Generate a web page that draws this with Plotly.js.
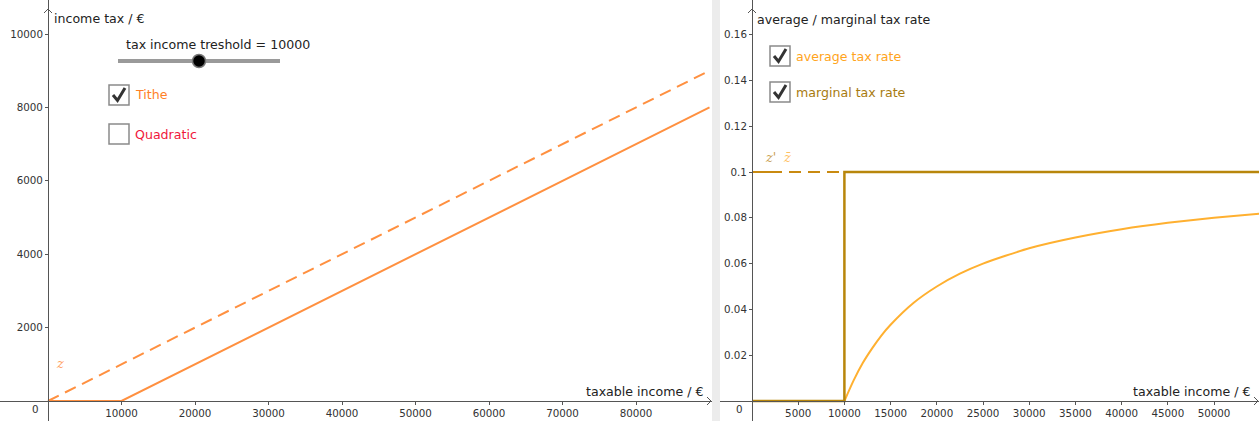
<!DOCTYPE html>
<html>
<head>
<meta charset="utf-8">
<script src="https://cdn.plot.ly/plotly-3.0.1.min.js"></script>
<style>html,body{margin:0;padding:0;background:#fff;}#chart{width:1259px;height:421px;}</style>
</head>
<body>
<div id="chart"></div>
<script>
// ---- data ----
const incomeTithe = [0, 10000, 90000];
const taxTithe = [0, 0, 8000];
const incomeZ = [0, 90000];
const taxZ = [0, 9000];

const incomeAvgFlat = [0, 10000];
const avgRateFlat = [0, 0];
const incomeAvg = [10000, 11000, 12000, 13000, 14000, 15000, 17500, 20000, 22500, 25000, 30000, 35000, 40000, 45000, 50000, 55000];
const avgRate = [0, 0.009, 0.0167, 0.023, 0.0286, 0.0333, 0.0429, 0.05, 0.0556, 0.06, 0.0667, 0.0714, 0.075, 0.0778, 0.08, 0.0818];
const incomeMarg = [0, 10000, 10000, 55000];
const margRate = [0, 0, 0.1, 0.1];
const incomeZbar = [0, 55000];
const zbarRate = [0.1, 0.1];

const leftXTicks = [10000, 20000, 30000, 40000, 50000, 60000, 70000, 80000];
const leftYTicks = [2000, 4000, 6000, 8000, 10000];
const rightXTicks = [5000, 10000, 15000, 20000, 25000, 30000, 35000, 40000, 45000, 50000];
const rightYTicks = [0.02, 0.04, 0.06, 0.08, 0.1, 0.12, 0.14, 0.16];
const rightYText = ['0.02', '0.04', '0.06', '0.08', '0.1', '0.12', '0.14', '0.16'];

// ---- styling / layout ----
const W = 1259, H = 421;
const px = x => x / W;
const py = y => 1 - y / H;
const FONT = 'DejaVu Sans, sans-serif';
const TS = 12.6;
const ORANGE = '#FF9040';
const AVG = '#FFB030';
const MARG = '#B8860B';
const AXC = '#555555';

let zbarDash = '30px';
for (let i = 0; i < 28; i++) zbarDash += ',7px,12px';

const traces = [
  {x: incomeZ, y: taxZ, xaxis: 'x', yaxis: 'y', mode: 'lines', line: {color: ORANGE, width: 2, dash: '12px,7px'}, hoverinfo: 'skip'},
  {x: incomeTithe, y: taxTithe, xaxis: 'x', yaxis: 'y', mode: 'lines', line: {color: ORANGE, width: 2}, hoverinfo: 'skip'},
  {x: incomeZbar, y: zbarRate, xaxis: 'x2', yaxis: 'y2', mode: 'lines', line: {color: '#C98A10', width: 2, dash: zbarDash}, hoverinfo: 'skip'},
  {x: incomeAvgFlat, y: avgRateFlat, xaxis: 'x2', yaxis: 'y2', mode: 'lines', line: {color: AVG, width: 2}, hoverinfo: 'skip'},
  {x: incomeAvg, y: avgRate, xaxis: 'x2', yaxis: 'y2', mode: 'lines', line: {color: AVG, width: 2, shape: 'spline', smoothing: 0.6}, hoverinfo: 'skip'},
  {x: incomeMarg, y: margRate, xaxis: 'x2', yaxis: 'y2', mode: 'lines', line: {color: MARG, width: 2.5}, hoverinfo: 'skip'}
];

function axisCommon() {
  return {showgrid: false, zeroline: false, showline: true, linecolor: AXC, linewidth: 1,
          ticks: 'outside', ticklen: 3, tickcolor: AXC, tickwidth: 1,
          tickfont: {family: FONT, size: 10.3, color: '#333'}, fixedrange: true};
}

const lx0 = 48, lx1 = 712, ly0 = 401;
const lxs = 73.5 / 10000, lys = 367 / 10000;
const rx0 = 752, rxl = 720, rxs = 46.2 / 5000, rys = 45.8 / 0.02;

const layout = {
  width: W, height: H,
  margin: {l: 0, r: 0, t: 0, b: 0},
  paper_bgcolor: '#fff', plot_bgcolor: 'rgba(0,0,0,0)',
  showlegend: false,
  xaxis: Object.assign(axisCommon(), {domain: [0, lx1 / W], range: [-lx0 / lxs, (lx1 - lx0) / lxs],
    anchor: 'free', position: (H - ly0) / H, tickvals: leftXTicks, tickformat: 'd'}),
  yaxis: Object.assign(axisCommon(), {domain: [0, 1], range: [-(H - ly0) / lys, ly0 / lys],
    anchor: 'free', position: lx0 / W, tickvals: leftYTicks, tickformat: 'd'}),
  xaxis2: Object.assign(axisCommon(), {domain: [rxl / W, 1], range: [-(rx0 - rxl) / rxs, (W - rx0) / rxs],
    anchor: 'free', position: (H - ly0) / H, tickvals: rightXTicks, tickformat: 'd'}),
  yaxis2: Object.assign(axisCommon(), {domain: [0, 1], range: [-(H - ly0) / rys, ly0 / rys],
    anchor: 'free', position: rx0 / W, tickvals: rightYTicks, ticktext: rightYText}),
  shapes: [],
  annotations: []
};

const S = layout.shapes, A = layout.annotations;
// divider
S.push({type: 'rect', xref: 'paper', yref: 'paper', x0: px(712), x1: px(720), y0: 0, y1: 1, line: {width: 0}, fillcolor: '#ECECEC', layer: 'below'});
// axis arrows
function arrowRight(x, y) {
  S.push({type: 'path', xref: 'paper', yref: 'paper', path: `M ${px(x-4)} ${py(y-4)} L ${px(x)} ${py(y)} L ${px(x-4)} ${py(y+4)}`, line: {color: AXC, width: 1}});
}
function arrowUp(x, y) {
  S.push({type: 'path', xref: 'paper', yref: 'paper', path: `M ${px(x-4)} ${py(y+4)} L ${px(x)} ${py(y)} L ${px(x+4)} ${py(y+4)}`, line: {color: AXC, width: 1}});
}
arrowRight(711, ly0); arrowUp(lx0, 9);
arrowRight(1258, ly0); arrowUp(rx0, 9);

function text(x, y, t, opts) {
  A.push(Object.assign({xref: 'paper', yref: 'paper', x: px(x), y: py(y), text: t, showarrow: false,
    xanchor: 'left', yanchor: 'middle', font: {family: FONT, size: TS, color: '#222'}}, opts || {}));
}
// origin labels
text(41, 409, '0', {xanchor: 'right', font: {family: FONT, size: 10.3, color: '#333'}});
text(745, 409, '0', {xanchor: 'right', font: {family: FONT, size: 10.3, color: '#333'}});
// axis titles
text(52, 18, 'income tax / €');
text(705, 391, 'taxable income / €', {xanchor: 'right'});
text(755, 19, 'average / marginal tax rate');
text(1252, 391, 'taxable income / €', {xanchor: 'right'});
// slider
text(218, 44, 'tax income treshold = 10000', {xanchor: 'center'});
S.push({type: 'line', xref: 'paper', yref: 'paper', x0: px(118), x1: px(280), y0: py(61), y1: py(61), line: {color: '#9A9A9A', width: 4}});
S.push({type: 'circle', xref: 'paper', yref: 'paper', x0: px(192.5), x1: px(205.5), y0: py(54.5), y1: py(67.5), fillcolor: '#000', line: {color: '#777', width: 1.5}});
// checkboxes
function checkbox(x, y, checked) {
  S.push({type: 'rect', xref: 'paper', yref: 'paper', x0: px(x), x1: px(x + 20), y0: py(y), y1: py(y + 20), fillcolor: '#fff', line: {color: '#8A8A8A', width: 1.5}});
  if (checked) {
    S.push({type: 'path', xref: 'paper', yref: 'paper', path: `M ${px(x+4)} ${py(y+10)} L ${px(x+8.5)} ${py(y+15.5)} L ${px(x+16)} ${py(y+3)}`, line: {color: '#333', width: 3}});
  }
}
checkbox(109, 85, true); text(133, 95, 'Tithe', {font: {family: FONT, size: TS, color: '#FF7F27'}});
checkbox(109, 124, false); text(133, 135, 'Quadratic', {font: {family: FONT, size: TS, color: '#F0183C'}});
checkbox(770, 46, true); text(794, 56, 'average tax rate', {font: {family: FONT, size: TS, color: '#FFA41B'}});
checkbox(770, 82, true); text(794, 92, 'marginal tax rate', {font: {family: FONT, size: TS, color: '#A87B10'}});
// function labels
text(54, 363, '<i>z</i>', {font: {family: 'DejaVu Serif, serif', size: 13, color: '#FFA060'}});
text(763, 158, "<i>z'</i>", {font: {family: 'DejaVu Serif, serif', size: 13, color: '#C8A050'}});
text(781, 158, '<i>z̄</i>', {font: {family: 'DejaVu Serif, serif', size: 13, color: '#FFC060'}});

Plotly.newPlot('chart', traces, layout, {staticPlot: true, displayModeBar: false});
</script>
</body>
</html>
